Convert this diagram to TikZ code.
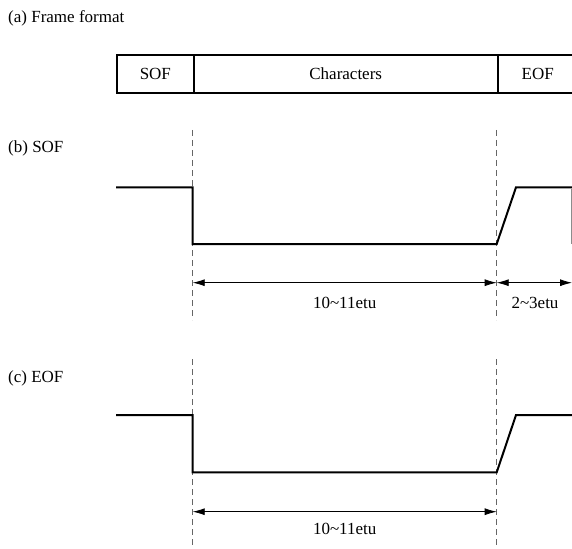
\documentclass[tikz,border=0pt]{standalone}
\usepackage{fontspec}
\setmainfont{Liberation Serif}
\usetikzlibrary{arrows.meta}
\begin{document}
\begin{tikzpicture}[x=1pt,y=-1pt,
  lbl/.style={font=\fontsize{17}{20}\selectfont, inner sep=0pt},
  fbox/.style={draw, line width=2pt, minimum height=38pt, inner sep=0pt, anchor=north west, font=\fontsize{17}{20}\selectfont},
  wave/.style={line width=2pt, line join=miter},
  guide/.style={draw=black!60, line width=0.8pt, dash pattern=on 6pt off 4pt},
  edgeline/.style={draw=black!45, line width=0.8pt},
  dim/.style={line width=0.8pt, {Latex[length=12pt,width=7pt]}-{Latex[length=12pt,width=7pt]}}
]
\useasboundingbox (0,0) rectangle (572,548);

% titles
\node[lbl, anchor=west] (ta) at (8,18.5) {(a) Frame format};
\node[lbl, anchor=west] (tb) at (8,148.5) {(b) SOF};
\node[lbl, anchor=west] (tc) at (8,378.5) {(c) EOF};

% frame format
\node[fbox, minimum width=76.7pt] (sof) at (116,54) {SOF};
\node[fbox, minimum width=304pt] (chars) at (192.7,54) {Characters};
\node[fbox, minimum width=80pt] (eof) at (496.7,54) {EOF};

% guides
\coordinate (g1t) at (192.7,130); \coordinate (g1m) at (192.7,320);
\coordinate (g1n) at (192.7,359); \coordinate (g1b) at (192.7,548);
\coordinate (g2t) at (496.7,130); \coordinate (g2m) at (496.7,320);
\coordinate (g2n) at (496.7,359); \coordinate (g2b) at (496.7,548);
\draw[guide] (g1t) -- (g1m);
\draw[guide] (g1n) -- (g1b);
\draw[guide] (g2t) -- (g2m);
\draw[guide] (g2n) -- (g2b);

% waveform (b)
\coordinate (b0) at (116,187.3);
\coordinate (b1) at (192.7,187.3);
\coordinate (b2) at (192.7,244);
\coordinate (b3) at (496.7,244);
\coordinate (b4) at (516,187.3);
\coordinate (b5) at (575,187.3);
\draw[wave] (b0) -- (b1) -- (b2) -- (b3) -- (b4) -- (b5);
\coordinate (e1) at (571.3,188.5);
\coordinate (e2) at (571.3,244);
\draw[edgeline] (e1) -- (e2);

% dimensions (b)
\coordinate (d1) at (192.7,282.7);
\coordinate (d2) at (496.7,282.7);
\coordinate (d3) at (572,282.7);
\draw[dim] (d1) -- (d2);
\draw[dim] (d2) -- (d3);
\node[lbl] (lb1) at (344.7,302.7) {10\textasciitilde 11etu};
\node[lbl] (lb2) at (535,302.7) {2\textasciitilde 3etu};

% waveform (c)
\coordinate (c0) at (116,415);
\coordinate (c1) at (192.7,415);
\coordinate (c2) at (192.7,472.3);
\coordinate (c3) at (496.7,472.3);
\coordinate (c4) at (516,415);
\coordinate (c5) at (575,415);
\draw[wave] (c0) -- (c1) -- (c2) -- (c3) -- (c4) -- (c5);

% dimension (c)
\coordinate (f1) at (192.7,511.7);
\coordinate (f2) at (496.7,511.7);
\draw[dim] (f1) -- (f2);
\node[lbl] (lc1) at (344.7,529.3) {10\textasciitilde 11etu};
\end{tikzpicture}
\end{document}
